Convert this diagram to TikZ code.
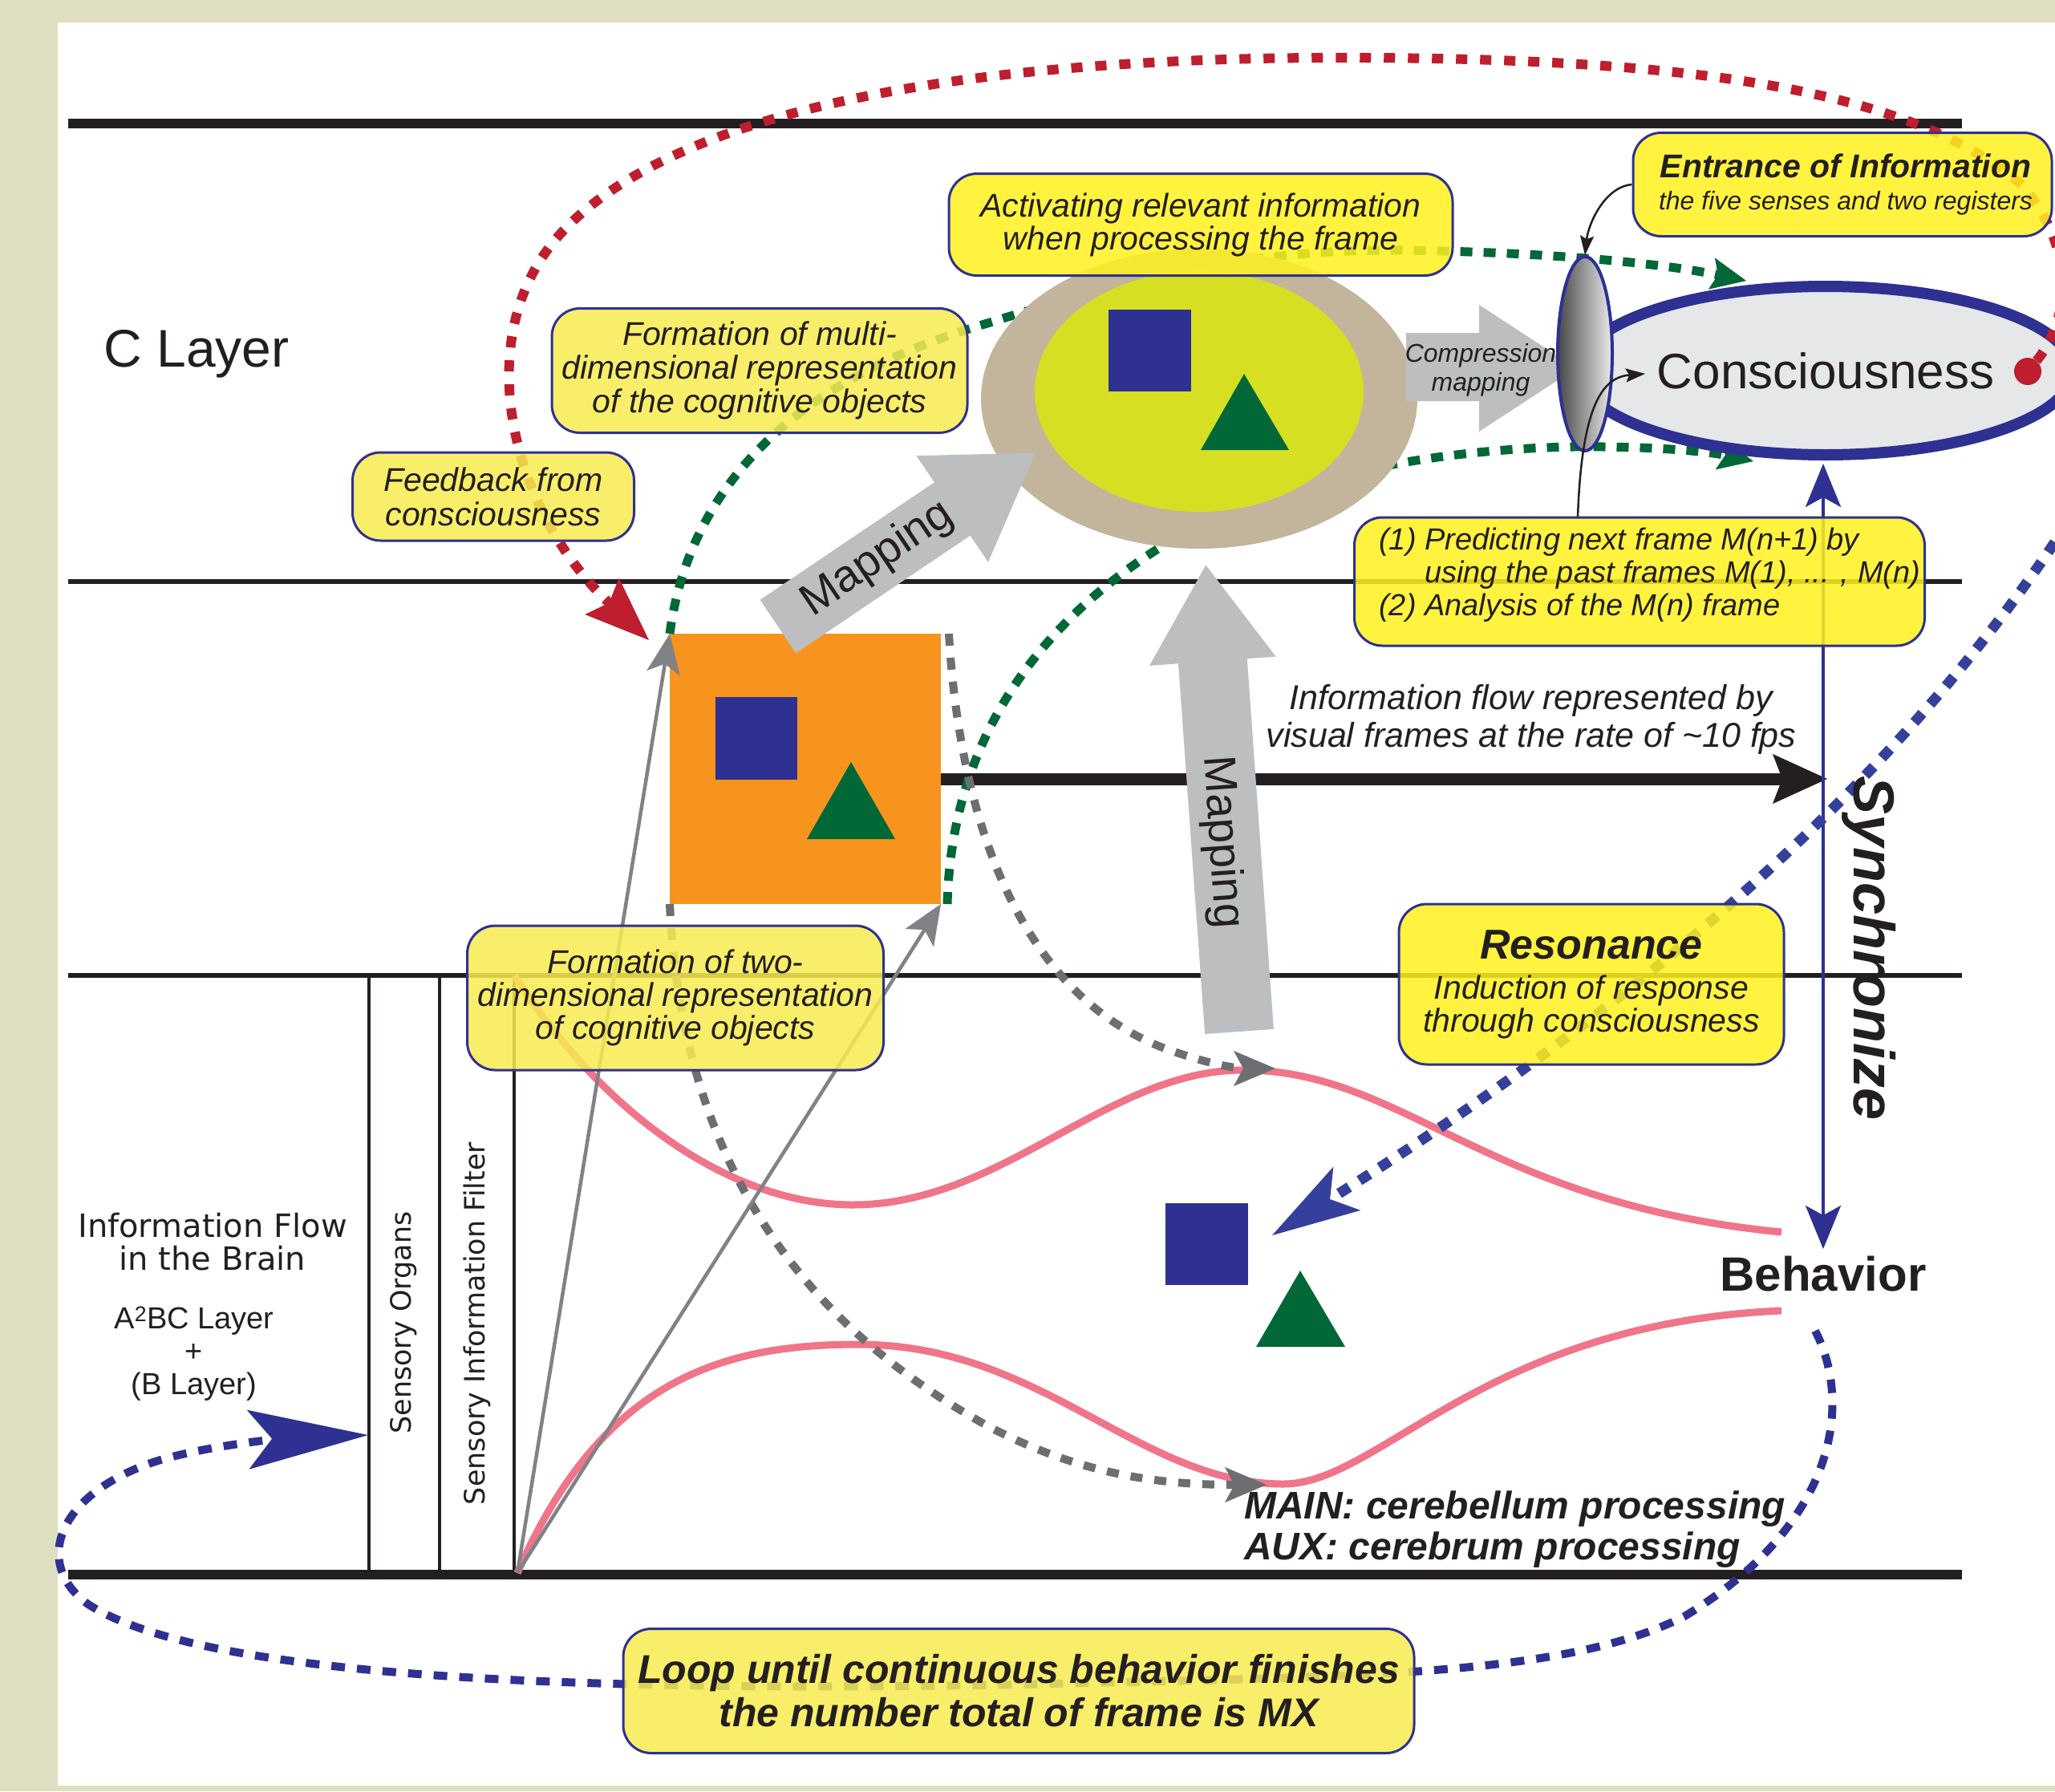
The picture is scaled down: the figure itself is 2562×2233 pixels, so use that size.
\documentclass[tikz,border=0pt]{standalone}
\usepackage{fontspec}
\setmainfont{Liberation Sans}
\newfontfamily\dvs{DejaVu Sans}
\usetikzlibrary{arrows.meta,shapes.geometric}

\definecolor{bgbeige}{RGB}{221,223,192}
\definecolor{cblue}{RGB}{46,49,146}
\definecolor{cbluedash}{RGB}{52,64,156}
\definecolor{cgreen}{RGB}{0,104,55}
\definecolor{corange}{RGB}{247,148,29}
\definecolor{ctan}{RGB}{194,181,155}
\definecolor{clime}{RGB}{215,223,35}
\definecolor{cgrayarr}{RGB}{188,190,192}
\definecolor{cgraydash}{RGB}{109,110,113}
\definecolor{cgrayline}{RGB}{128,130,133}
\definecolor{cpink}{RGB}{240,117,137}
\definecolor{cred}{RGB}{190,30,45}
\definecolor{cconsc}{RGB}{230,231,232}
\definecolor{ybright}{RGB}{255,241,30}
\definecolor{ypale}{RGB}{247,236,80}
\definecolor{cblack}{RGB}{35,31,32}

\newcommand\myfs[2]{\fontsize{#1}{#2}\selectfont}

\begin{document}
\begin{tikzpicture}[x=1pt,y=-1pt,
  ybox/.style={draw=cblue, line width=3pt, rounded corners=35pt, fill opacity=0.85, draw opacity=1, text opacity=1, inner sep=0pt, align=center, text=cblack},
  txt/.style={inner sep=0pt, text=cblack, align=center},
  reddash/.style={draw=cred, line width=12pt, dash pattern=on 14pt off 16pt},
  greendash/.style={draw=cgreen, line width=11pt, dash pattern=on 15pt off 14pt},
  graydash/.style={draw=cgraydash, line width=10pt, dash pattern=on 15pt off 15pt},
  bluedash/.style={draw=cblue, line width=10pt, dash pattern=on 17pt off 15pt},
  bluediag/.style={draw=cbluedash, line width=13pt, dash pattern=on 15pt off 15pt},
  pinkline/.style={draw=cpink, line width=9pt},
  grayline/.style={draw=cgrayline, line width=4.5pt},
  layerthick/.style={draw=cblack, line width=12pt},
  layerthin/.style={draw=cblack, line width=6pt},
  colline/.style={draw=cblack, line width=4.5pt},
  thinarrow/.style={draw=cblack, line width=2.5pt, -{Stealth[length=24pt,width=17pt,inset=4pt]}},
]
\useasboundingbox (0,0) rectangle (2562,2233);
\fill[bgbeige] (0,0) rectangle (2562,2233);
\fill[white] (72,28) rectangle (2562,2226);

% named coordinates
\coordinate (filtertop) at (641,1216);
\coordinate (src) at (645,1961);
\coordinate (flowA) at (1173,971);
\coordinate (flowB) at (2278,971);
\coordinate (g1tip) at (2177,350);
\coordinate (g2tip) at (2186,575);
\coordinate (gd1tip) at (1590,1332);
\coordinate (gd2tip) at (1579,1851);
\coordinate (redtip) at (809,798);
\coordinate (bdstart) at (2610,600);
\coordinate (bdtip) at (1586,1540);
\coordinate (loopstart) at (2263,1659);
\coordinate (looptip) at (459,1789);
\coordinate (synctop) at (2273,578);
\coordinate (syncbot) at (2273,1557);
\coordinate (pstart) at (1967,645);
\coordinate (ctip) at (2051,466);
\coordinate (pinkUend) at (2221,1536);
\coordinate (pinkLend) at (2221,1634);

% layer lines
\draw[layerthick] (85,154) -- (2446,154);
\draw[layerthin] (85,725) -- (2446,725);
\draw[layerthin] (85,1216) -- (2446,1216);
\draw[layerthick] (85,1963) -- (2446,1963);
\draw[colline] (460,1216) -- (460,1963);
\draw[colline] (548,1216) -- (548,1963);
\draw[colline] (641,1216) -- (641,1963);

% pink curves
\draw[pinkline] (filtertop) .. controls (760,1400) and (920,1502) .. (1063,1502) .. controls (1250,1502) and (1380,1334) .. (1550,1334) .. controls (1750,1334) and (1850,1500) .. (pinkUend);
\draw[pinkline] (src) .. controls (750,1720) and (900,1676) .. (1070,1676) .. controls (1300,1676) and (1420,1850) .. (1600,1850) .. controls (1720,1850) and (1850,1650) .. (pinkLend);

% black information-flow arrow
\draw[draw=cblack, line width=15pt, -{Stealth[length=68pt,width=62pt,inset=12pt,line width=1pt]}] (flowA) -- (flowB);

% orange square with objects
\node[fill=corange, minimum width=338pt, minimum height=337pt, inner sep=0pt, outer sep=0pt] (osq) at (1004,958.5) {};
\fill[cblue] (892,869) rectangle (994,972);
\fill[cgreen] (1061,950) -- (1006,1046) -- (1116,1046) -- cycle;

% green dashed curves
\draw[greendash, -{Stealth[length=44pt,width=40pt,inset=8pt,line width=1pt]}] (osq.north west) .. controls (860,600) and (1000,470) .. (1231,403) .. controls (1400,350) and (1550,310) .. (1750,312) .. controls (1950,315) and (2080,330) .. (g1tip);
\draw[greendash, -{Stealth[length=44pt,width=40pt,inset=8pt,line width=1pt]}] ([xshift=8pt]osq.south east) .. controls (1185,960) and (1260,800) .. (1447,682) .. controls (1600,590) and (1800,560) .. (1961,557) .. controls (2060,556) and (2130,563) .. (g2tip);

% tan ellipse with objects
\fill[ctan] (1495,497) ellipse [x radius=272, y radius=187];
\fill[clime] (1495,488) ellipse [x radius=205, y radius=150];
\fill[cblue] (1382,386) rectangle (1485,488);
\fill[cgreen] (1551,466) -- (1497,561) -- (1607,561) -- cycle;

% diagonal mapping block arrow
\begin{scope}[shift={(970,781)}, rotate=34]
\fill[cgrayarr] (0,-40) -- (262,-40) -- (262,-80) -- (387,0) -- (262,80) -- (262,40) -- (0,40) -- cycle;
\end{scope}
% vertical mapping block arrow
\begin{scope}[shift={(1545,1286)}, rotate=94.1]
\fill[cgrayarr] (0,-43) -- (463,-43) -- (463,-79) -- (583,0) -- (463,79) -- (463,43) -- (0,43) -- cycle;
\end{scope}

% gray dashed curves
\draw[graydash, -{Stealth[length=52pt,width=44pt,inset=12pt,line width=1pt]}] ([xshift=10pt]osq.north east) .. controls (1195,1000) and (1260,1230) .. (1447,1305) .. controls (1500,1325) and (1540,1332) .. (gd1tip);
\draw[graydash, -{Stealth[length=52pt,width=44pt,inset=12pt,line width=1pt]}] (osq.south west) .. controls (850,1450) and (1000,1650) .. (1232,1778) .. controls (1350,1840) and (1450,1851) .. (gd2tip);

% gray solid arrows
\draw[grayline, -{Stealth[length=50pt,width=42pt,inset=12pt,line width=1pt]}] (src) -- (osq.north west);
\draw[grayline, -{Stealth[length=50pt,width=42pt,inset=12pt,line width=1pt]}] (src) -- (osq.south east);

% compression block arrow
\fill[cgrayarr] (1753,415) -- (1844,415) -- (1844,380) -- (1965,459) -- (1844,538) -- (1844,500) -- (1753,500) -- cycle;

% consciousness
\node[ellipse, draw=cblue, line width=14pt, fill=cconsc, minimum width=616pt, minimum height=210pt, inner sep=0pt, text=cblack, font=\myfs{62}{62}] (consc) at (2276,462) {Consciousness};
\node[ellipse, draw=cblue, line width=4pt, left color=black!72, right color=black!8, minimum width=68pt, minimum height=242pt, inner sep=0pt] (lens) at (1976,441) {};
\node[circle, fill=cred, minimum size=34pt, inner sep=0pt] (rdot) at (2528,463) {};

% synchronize arrow
\draw[draw=cblue, line width=4pt, {Stealth[length=54pt,width=44pt,inset=12pt]}-{Stealth[length=54pt,width=44pt,inset=12pt]}] (synctop) -- (syncbot);

% red feedback curve
\draw[reddash, -{Stealth[length=80pt,width=62pt,inset=12pt,line width=1pt]}] (rdot) .. controls (2580,400) and (2590,310) .. (2520,230) .. controls (2380,110) and (2100,70) .. (1640,72) .. controls (1150,75) and (830,150) .. (700,290) .. controls (580,420) and (640,640) .. (redtip);

% blue dashed curves
\draw[bluediag, -{Stealth[length=110pt,width=64pt,inset=25pt,line width=1pt]}] (bdstart) .. controls (2400,950) and (2050,1250) .. (bdtip);
\draw[bluedash, -{Stealth[length=150pt,width=74pt,inset=30pt,line width=1pt]}] (loopstart) .. controls (2310,1750) and (2290,1900) .. (2100,2015) .. controls (1950,2090) and (1700,2090) .. (1270,2100) .. controls (700,2110) and (250,2090) .. (110,2000) .. controls (40,1950) and (70,1860) .. (200,1820) .. controls (280,1797) and (380,1792) .. (looptip);

% bottom objects
\fill[cblue] (1453,1500) rectangle (1556,1602);
\fill[cgreen] (1621,1584) -- (1566,1679) -- (1677,1679) -- cycle;

% yellow boxes
\node[ybox, fill=ybright, minimum width=522pt, minimum height=129pt] (ebox) at (2297,230) {};
\node[ybox, fill=ybright, minimum width=628pt, minimum height=127pt, font=\myfs{41}{41}\itshape] (abox) at (1497,280) {Activating relevant information\\when processing the frame};
\node[ybox, fill=ypale, minimum width=518pt, minimum height=155pt, font=\myfs{41}{42}\itshape] (fmbox) at (947,462) {Formation of multi-\\dimensional representation\\of the cognitive objects};
\node[ybox, fill=ypale, minimum width=351pt, minimum height=110pt, font=\myfs{41}{43}\itshape] (fbbox) at (615,619) {Feedback from\\consciousness};

% thin black arrows
\draw[thinarrow] (ebox.west) .. controls (2000,233) and (1980,280) .. (lens.north);
\draw[thinarrow] (pstart) .. controls (1972,500) and (2000,470) .. (ctip);

\node[ybox, fill=ybright, minimum width=711pt, minimum height=160pt] (pbox) at (2044,725) {};
\node[ybox, fill=ybright, minimum width=480pt, minimum height=200pt] (rbox) at (1984,1227) {};
\node[ybox, fill=ypale, minimum width=519pt, minimum height=180pt, font=\myfs{41}{41}\itshape] (ftbox) at (842,1244) {Formation of two-\\dimensional representation\\of cognitive objects};
\node[ybox, fill=ypale, minimum width=986pt, minimum height=155pt, font=\myfs{50}{54}\bfseries\itshape] (lbox) at (1270,2108) {Loop until continuous behavior finishes\\the number total of frame is MX};

% texts
\node[txt, font=\myfs{41}{41}\bfseries\itshape] (etitle) at (2301,207) {Entrance of Information};
\node[txt, font=\myfs{32}{32}\itshape] (esub) at (2301,253) {the five senses and two registers};
\node[txt, align=left, anchor=west, font=\myfs{38}{41}\itshape] (ptext) at (1719,717) {(1) Predicting next frame M(n+1) by\\\hspace*{57pt}using the past frames M(1), ... , M(n)\\(2) Analysis of the M(n) frame};
\node[txt, font=\myfs{52}{52}\bfseries\itshape] (rtitle) at (1984,1178) {Resonance};
\node[txt, font=\myfs{41}{41}\itshape] (rsub) at (1984,1255) {Induction of response\\through consciousness};
\node[txt, font=\myfs{66}{66}] (clayer) at (245,441) {C Layer};
\node[txt, font=\myfs{43}{47}\itshape] (flowtxt) at (1909,897) {Information flow represented by\\visual frames at the rate of \textasciitilde10 fps};
\node[txt, anchor=west, align=left, font=\myfs{48}{51}\bfseries\itshape] (maintxt) at (1551,1907) {MAIN: cerebellum processing\\AUX: cerebrum processing};
\node[txt, font=\myfs{60}{60}\bfseries] (behav) at (2273,1588) {Behavior};
\node[txt, rotate=-90, font=\myfs{72}{72}\bfseries\itshape] (sync) at (2330,1182) {Synchronize};
\node[txt, font=\myfs{32}{36}\itshape] (comp) at (1846,461) {Compression\\mapping};
\node[txt, rotate=34, font=\myfs{56}{56}] (map1) at (1094,697) {Mapping};
\node[txt, rotate=-86, font=\myfs{56}{56}] (map2) at (1523,1050) {Mapping};
\node[txt, font=\myfs{40}{41}\dvs] (iflow) at (265,1548) {Information Flow\\in the Brain};
\node[txt, font=\myfs{38}{41}] (abc) at (242,1688) {A\textsuperscript{2}BC Layer\\+\\(B Layer)};
\node[txt, rotate=90, font=\myfs{35}{35}\dvs] (sorg) at (503,1649) {Sensory Organs};
\node[txt, rotate=90, font=\myfs{35}{35}\dvs] (sfilt) at (595,1650) {Sensory Information Filter};
\end{tikzpicture}
\end{document}
